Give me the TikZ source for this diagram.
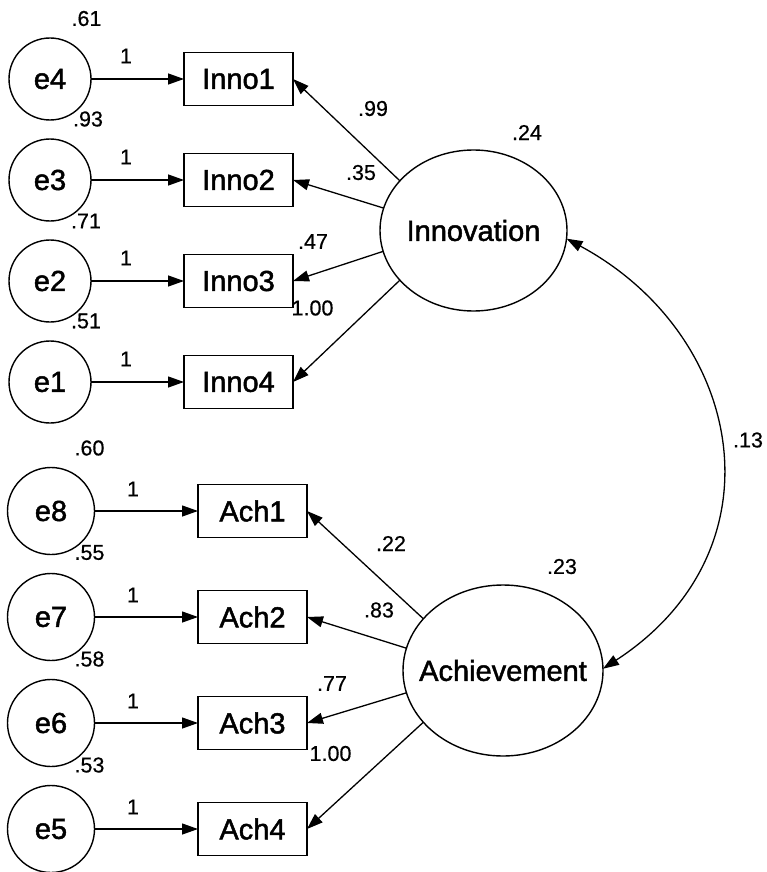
\documentclass[tikz,border=0pt]{standalone}
\usepackage{fontspec}
\setmainfont{Liberation Sans}
\newfontfamily\heavysans[FakeBold=1.6]{Liberation Sans}
\newfontfamily\numsans[FakeBold=0.5]{Liberation Sans}
\usetikzlibrary{arrows.meta,shapes.geometric}
\begin{document}
\begin{tikzpicture}[x=1pt,y=-1pt,
  every node/.style={inner sep=0pt, outer sep=0pt},
  bigtext/.style={font=\heavysans\fontsize{29}{32}\selectfont},
  errA/.style={draw, circle, line width=1.4pt, minimum size=82pt, bigtext},
  errB/.style={draw, circle, line width=1.4pt, minimum size=87pt, bigtext},
  ind/.style={draw, rectangle, line width=1.4pt, minimum width=109pt, minimum height=53pt, bigtext},
  lat/.style={draw, ellipse, line width=1.4pt},
  num/.style={font=\numsans\fontsize{21.5}{24}\selectfont},
  tip/.tip={Triangle[length=16pt,width=11pt]},
  arr/.style={line width=1.3pt, -tip},
  cov/.style={line width=1.3pt, tip-tip}
]
\useasboundingbox (0,0) rectangle (767,872);

% ---------- Innovation block ----------
\node[errA] (e4) at (50,79)  {e4};
\node[errA] (e3) at (50,180) {e3};
\node[errA] (e2) at (50,281) {e2};
\node[errA] (e1) at (50,382) {e1};

\node[ind] (Inno1) at (238.5,79)  {Inno1};
\node[ind] (Inno2) at (238.5,180) {Inno2};
\node[ind] (Inno3) at (238.5,281) {Inno3};
\node[ind] (Inno4) at (238.5,382) {Inno4};

\node[lat, minimum width=187pt, minimum height=161pt,
      label={[bigtext]center:Innovation}] (Innovation) at (473.5,230.5) {};

\foreach \i/\j in {e4/Inno1, e3/Inno2, e2/Inno3, e1/Inno4}
  \draw[arr] (\i) -- (\j);

\draw[arr] (Innovation.146) -- (Inno1.east);
\draw[arr] (Innovation.166) -- (Inno2.east);
\draw[arr] (Innovation.193) -- (Inno3.east);
\draw[arr] (Innovation.214) -- (Inno4.east);

% variances and weights
\node[num] (v4) at (86.5,18.5) {.61};
\node[num] (v3) at (88,119)    {.93};
\node[num] (v2) at (86,221)    {.71};
\node[num] (v1) at (86,321)    {.51};
\node[num] (w4) at (126,56)  {1};
\node[num] (w3) at (126,157) {1};
\node[num] (w2) at (126,258) {1};
\node[num] (w1) at (126,359) {1};

\node[num] (l1) at (373,108.5) {.99};
\node[num] (l2) at (361,172.5) {.35};
\node[num] (l3) at (313,241.5) {.47};
\node[num] (l4) at (312.5,308) {1.00};
\node[num] (vInno) at (527,132.5) {.24};

% ---------- Achievement block ----------
\node[errB] (e8) at (51,511) {e8};
\node[errB] (e7) at (51,617) {e7};
\node[errB] (e6) at (51,723) {e6};
\node[errB] (e5) at (51,829) {e5};

\node[ind] (Ach1) at (252.5,511) {Ach1};
\node[ind] (Ach2) at (252.5,617) {Ach2};
\node[ind] (Ach3) at (252.5,723) {Ach3};
\node[ind] (Ach4) at (252.5,829) {Ach4};

\node[lat, minimum width=200pt, minimum height=171pt,
      label={[bigtext]center:Achievement}] (Achievement) at (503,670.5) {};

\foreach \i/\j in {e8/Ach1, e7/Ach2, e6/Ach3, e5/Ach4}
  \draw[arr] (\i) -- (\j);

\draw[arr] (Achievement.147) -- (Ach1.east);
\draw[arr] (Achievement.167) -- (Ach2.east);
\draw[arr] (Achievement.193) -- (Ach3.east);
\draw[arr] (Achievement.213) -- (Ach4.east);

\node[num] (v8) at (89.5,448)  {.60};
\node[num] (v7) at (89.5,552.5){.55};
\node[num] (v6) at (89.5,659)  {.58};
\node[num] (v5) at (89.5,765)  {.53};
\node[num] (w8) at (133,489) {1};
\node[num] (w7) at (133,595) {1};
\node[num] (w6) at (133,701) {1};
\node[num] (w5) at (133,807) {1};

\node[num] (m1) at (391,543.5) {.22};
\node[num] (m2) at (379,610)   {.83};
\node[num] (m3) at (332,683.5) {.77};
\node[num] (m4) at (330.5,753.5) {1.00};
\node[num] (vAch) at (562,566.5) {.23};

% ---------- covariance ----------
\draw[cov] (Innovation.-5) .. controls (745,335) and (785,550) .. (Achievement.1);
\node[num] (c) at (748,440) {.13};
\end{tikzpicture}
\end{document}
